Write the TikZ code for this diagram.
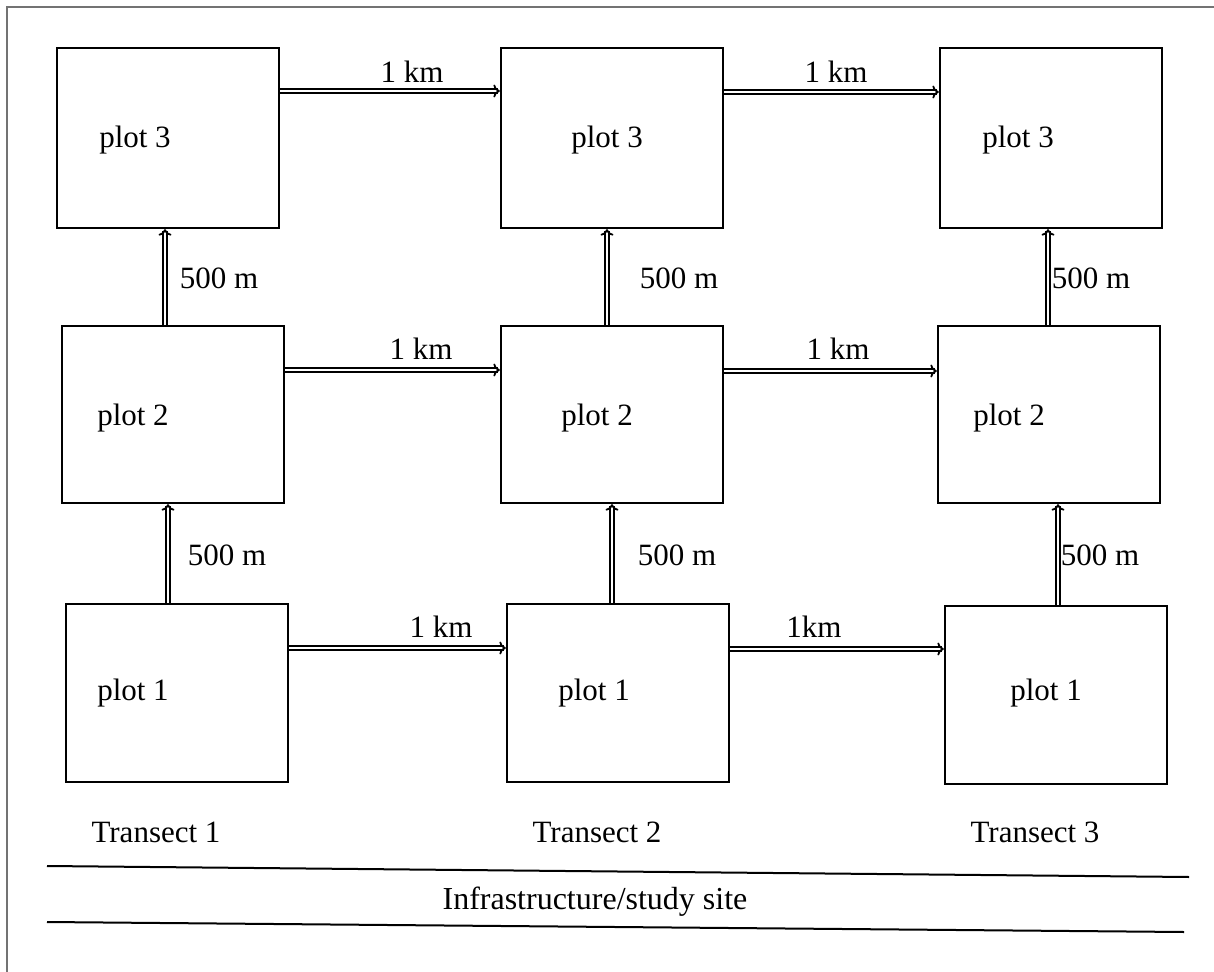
\documentclass[tikz,border=0pt]{standalone}
\usepackage{fontspec}
\setmainfont{Liberation Serif}
\usetikzlibrary{arrows.meta}
\begin{document}
\begin{tikzpicture}[x=0.5pt,y=-0.5pt,
  plotbox/.style={draw=black,line width=1.2pt,minimum width=111pt,minimum height=90pt,inner sep=0pt},
  lbl/.style={font=\fontsize{15.5}{18}\selectfont,inner sep=0pt},
  arr/.style={draw=black,line width=0.95pt,double=white,double distance=0.9pt,-{To[length=3.2pt,width=6.5pt,line width=0.9pt]}},
  siteline/.style={line width=1pt},
  frame/.style={draw=black!55,line width=0.6pt}]
\useasboundingbox (0,0) rectangle (1214,972);
\coordinate (fTR) at (1214,7);
\coordinate (fC) at (7,7);
\coordinate (fBL) at (7,972);
\draw[frame] (fTR) -- (fC) -- (fBL);
% boxes
\node[plotbox] (A3) at (168,138) {};
\node[plotbox] (B3) at (612,138) {};
\node[plotbox] (C3) at (1051,138) {};
\node[plotbox,minimum height=88.5pt] (A2) at (173,414.5) {};
\node[plotbox,minimum height=88.5pt] (B2) at (612,414.5) {};
\node[plotbox,minimum height=88.5pt] (C2) at (1049,414.5) {};
\node[plotbox,minimum height=89pt] (A1) at (177,693) {};
\node[plotbox,minimum height=89pt] (B1) at (618,693) {};
\node[plotbox,minimum height=89pt] (C1) at (1056,695) {};
% plot labels
\node[lbl] (tA3) at (135,140) {plot 3};
\node[lbl] (tB3) at (607,140) {plot 3};
\node[lbl] (tC3) at (1018,140) {plot 3};
\node[lbl] (tA2) at (133,418) {plot 2};
\node[lbl] (tB2) at (597,418) {plot 2};
\node[lbl] (tC2) at (1009,418) {plot 2};
\node[lbl] (tA1) at (133,693) {plot 1};
\node[lbl] (tB1) at (594,693) {plot 1};
\node[lbl] (tC1) at (1046,693) {plot 1};
% horizontal arrows
\draw[arr] (A3.east |- 0,91) -- (B3.west |- 0,91);
\draw[arr] (B3.east |- 0,92) -- (C3.west |- 0,92);
\draw[arr] (A2.east |- 0,370) -- (B2.west |- 0,370);
\draw[arr] (B2.east |- 0,371) -- (C2.west |- 0,371);
\draw[arr] (A1.east |- 0,648) -- (B1.west |- 0,648);
\draw[arr] (B1.east |- 0,649) -- (C1.west |- 0,649);
\node[lbl] (h1) at (412,72) {1 km};
\node[lbl] (h2) at (836,72) {1 km};
\node[lbl] (h3) at (421,349) {1 km};
\node[lbl] (h4) at (838,349) {1 km};
\node[lbl] (h5) at (441,627) {1 km};
\node[lbl] (h6) at (814,627) {1km};
% vertical arrows
\draw[arr] (A2.north -| 165,0) -- (A3.south -| 165,0);
\draw[arr] (B2.north -| 607,0) -- (B3.south -| 607,0);
\draw[arr] (C2.north -| 1048,0) -- (C3.south -| 1048,0);
\draw[arr] (A1.north -| 168,0) -- (A2.south -| 168,0);
\draw[arr] (B1.north -| 612,0) -- (B2.south -| 612,0);
\draw[arr] (C1.north -| 1058,0) -- (C2.south -| 1058,0);
\node[lbl] (v1) at (219,278) {500 m};
\node[lbl] (v2) at (679,278) {500 m};
\node[lbl] (v3) at (1091,278) {500 m};
\node[lbl] (v4) at (227,555) {500 m};
\node[lbl] (v5) at (677,555) {500 m};
\node[lbl] (v6) at (1100,555) {500 m};
% transects
\node[lbl] (T1) at (156,832) {Transect 1};
\node[lbl] (T2) at (597,832) {Transect 2};
\node[lbl] (T3) at (1035,832) {Transect 3};
% site
\coordinate (s1a) at (47,866);
\coordinate (s1b) at (1189,877);
\coordinate (s2a) at (47,922);
\coordinate (s2b) at (1184,932);
\draw[siteline] (s1a) -- (s1b);
\draw[siteline] (s2a) -- (s2b);
\node[lbl,font=\fontsize{16}{18}\selectfont] (site) at (595,902) {Infrastructure/study site};
\end{tikzpicture}
\end{document}
